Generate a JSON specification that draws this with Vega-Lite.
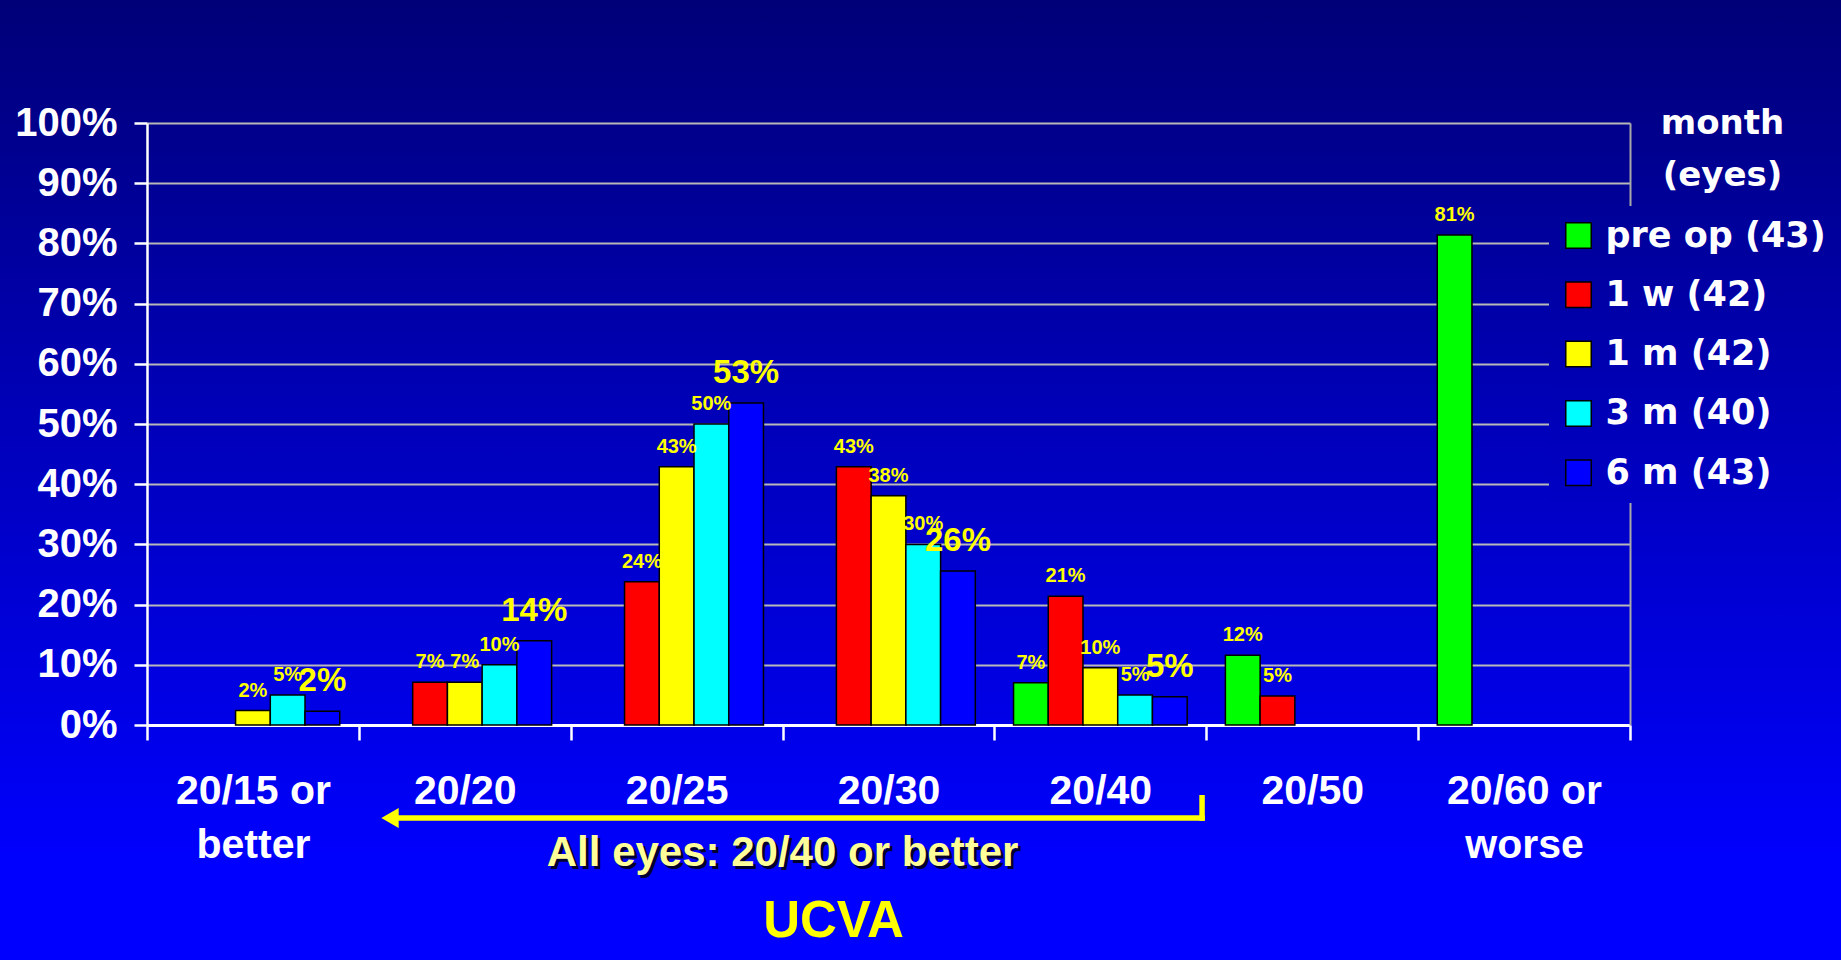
{
  "$schema": "https://vega.github.io/schema/vega-lite/v6.json",
  "width": 1483,
  "height": 602,
  "autosize": {"type": "none"},
  "padding": {"left": 147, "top": 123, "right": 211, "bottom": 235},
  "background": "#000078",
  "config": {
    "view": {
      "fill": null,
      "stroke": {"gradient": "linear", "x1": 0, "y1": -0.2043, "x2": 0, "y2": 1.2409,
        "stops": [{"offset": 0, "color": "#000078"}, {"offset": 1, "color": "#0000FF"}]},
      "strokeWidth": 3200
    }
  },
  "datasets": {
    "bars": [
      {"cat": "20/15 or better", "series": "1 m (42)", "value": 0.024},
      {"cat": "20/15 or better", "series": "3 m (40)", "value": 0.05},
      {"cat": "20/15 or better", "series": "6 m (43)", "value": 0.023},
      {"cat": "20/20", "series": "1 w (42)", "value": 0.071},
      {"cat": "20/20", "series": "1 m (42)", "value": 0.071},
      {"cat": "20/20", "series": "3 m (40)", "value": 0.10},
      {"cat": "20/20", "series": "6 m (43)", "value": 0.140},
      {"cat": "20/25", "series": "1 w (42)", "value": 0.238},
      {"cat": "20/25", "series": "1 m (42)", "value": 0.429},
      {"cat": "20/25", "series": "3 m (40)", "value": 0.50},
      {"cat": "20/25", "series": "6 m (43)", "value": 0.5349},
      {"cat": "20/30", "series": "1 w (42)", "value": 0.429},
      {"cat": "20/30", "series": "1 m (42)", "value": 0.381},
      {"cat": "20/30", "series": "3 m (40)", "value": 0.30},
      {"cat": "20/30", "series": "6 m (43)", "value": 0.256},
      {"cat": "20/40", "series": "pre op (43)", "value": 0.070},
      {"cat": "20/40", "series": "1 w (42)", "value": 0.214},
      {"cat": "20/40", "series": "1 m (42)", "value": 0.095},
      {"cat": "20/40", "series": "3 m (40)", "value": 0.05},
      {"cat": "20/40", "series": "6 m (43)", "value": 0.047},
      {"cat": "20/50", "series": "pre op (43)", "value": 0.116},
      {"cat": "20/50", "series": "1 w (42)", "value": 0.048},
      {"cat": "20/60 or worse", "series": "pre op (43)", "value": 0.814}
    ],
    "arrowShaft": [{"from": "20/20", "to": "20/40", "level": -0.1545}],
    "arrowDrop": [{"at": "20/40", "top": -0.1163, "bottom": -0.159}],
    "arrowHead": [{"at": "20/20", "level": -0.1545}],
    "note": [{"at": "20/30", "level": -0.234, "text": "All eyes: 20/40 or better"}]
  },
  "resolve": {"axis": {"y": "independent"}},
  "layer": [
    {
      "data": {"name": "bars"},
      "mark": {"type": "bar", "stroke": "#000000", "strokeWidth": 1.5},
      "encoding": {
        "x": {
          "field": "cat", "type": "nominal", "title": "UCVA",
          "scale": {"domain": ["20/15 or better", "20/20", "20/25", "20/30", "20/40", "20/50", "20/60 or worse"], "paddingInner": 0, "paddingOuter": 0},
          "axis": {
            "title": "UCVA", "titleColor": "#FFFF00", "titleFont": "Liberation Sans", "titleFontSize": 51, "titleFontWeight": "bold",
            "titleX": 686, "titleY": 211, "titleAlign": "center", "titleBaseline": "alphabetic",
            "labelExpr": "split(replace(datum.label, ' or ', ' or|'), '|')",
            "labelFont": "Liberation Sans", "labelFontSize": 41, "labelFontWeight": "bold", "labelColor": "#FFFFFF",
            "labelAngle": 0, "labelPadding": 31, "labelLineHeight": 54, "labelLimit": 400, "labelBaseline": "top",
            "domainColor": "#FFFFFF", "domainWidth": 3, "tickColor": "#FFFFFF", "tickWidth": 2.5, "tickSize": 15,
            "tickBand": "extent", "grid": false
          }
        },
        "xOffset": {
          "field": "series", "type": "nominal",
          "scale": {"domain": ["pre op (43)", "1 w (42)", "1 m (42)", "3 m (40)", "6 m (43)"], "paddingInner": 0, "paddingOuter": 0.55}
        },
        "y": {
          "field": "value", "type": "quantitative",
          "scale": {"domain": [0, 1], "nice": false},
          "axis": {
            "orient": "left", "title": null, "values": [0, 0.1, 0.2, 0.3, 0.4, 0.5, 0.6, 0.7, 0.8, 0.9, 1], "format": ".0%",
            "labelFont": "Liberation Sans", "labelFontSize": 40, "labelFontWeight": "bold", "labelColor": "#FFFFFF", "labelPadding": 17,
            "tickSize": 13, "tickColor": "#FFFFFF", "tickWidth": 2.5, "domainColor": "#FFFFFF", "domainWidth": 2.5,
            "grid": true, "gridColor": "#B8B8B8", "gridWidth": 2
          }
        },
        "color": {
          "field": "series", "type": "nominal",
          "scale": {"domain": ["pre op (43)", "1 w (42)", "1 m (42)", "3 m (40)", "6 m (43)"], "range": ["#00FF00", "#FF0000", "#FFFF00", "#00FFFF", "#0000FF"]},
          "legend": {
            "orient": "none", "legendX": 1402, "legendY": 83, "title": null, "padding": 12,
            "fillColor": {"value": {"gradient": "linear", "x1": 0, "y1": -0.707, "x2": 0, "y2": 2.273,
              "stops": [{"offset": 0, "color": "#000078"}, {"offset": 1, "color": "#0000FF"}]}},
            "symbolType": "square", "symbolSize": 650, "symbolStrokeColor": "#000000", "symbolStrokeWidth": 1.5,
            "labelFont": "DejaVu Sans", "labelFontSize": 35, "labelFontWeight": "bold", "labelColor": "#FFFFFF",
            "labelOffset": 9.5, "rowPadding": 23.3, "labelLimit": 400
          }
        }
      }
    },
    {
      "data": {"name": "bars"},
      "transform": [{"filter": "datum.series !== '6 m (43)'"}],
      "mark": {"type": "text", "font": "Liberation Sans", "fontSize": 20, "fontWeight": "bold", "color": "#FFFF00", "baseline": "alphabetic", "dy": -14},
      "encoding": {
        "x": {"field": "cat", "type": "nominal", "title": "UCVA", "scale": {"domain": ["20/15 or better", "20/20", "20/25", "20/30", "20/40", "20/50", "20/60 or worse"], "paddingInner": 0, "paddingOuter": 0}},
        "xOffset": {"field": "series", "type": "nominal", "scale": {"domain": ["pre op (43)", "1 w (42)", "1 m (42)", "3 m (40)", "6 m (43)"], "paddingInner": 0, "paddingOuter": 0.55}},
        "y": {
          "field": "value", "type": "quantitative", "scale": {"domain": [0, 1], "nice": false},
          "axis": {
            "orient": "right", "labels": false, "ticks": false, "grid": false, "domainColor": "#A8A8A8", "domainWidth": 2,
            "title": ["month", "(eyes)"], "titleColor": "#FFFFFF", "titleFont": "DejaVu Sans", "titleFontSize": 34, "titleFontWeight": "bold",
            "titleAngle": 0, "titleAlign": "center", "titleBaseline": "alphabetic", "titleX": 92, "titleY": 10, "titleLineHeight": 52
          }
        },
        "text": {"field": "value", "type": "quantitative", "format": ".0%"}
      }
    },
    {
      "data": {"name": "bars"},
      "transform": [{"filter": "datum.series === '6 m (43)'"}],
      "mark": {"type": "text", "font": "Liberation Sans", "fontSize": 33, "fontWeight": "bold", "color": "#FFFF00", "baseline": "alphabetic", "dy": -20},
      "encoding": {
        "x": {"field": "cat", "type": "nominal", "title": "UCVA", "scale": {"domain": ["20/15 or better", "20/20", "20/25", "20/30", "20/40", "20/50", "20/60 or worse"], "paddingInner": 0, "paddingOuter": 0}},
        "xOffset": {"field": "series", "type": "nominal", "scale": {"domain": ["pre op (43)", "1 w (42)", "1 m (42)", "3 m (40)", "6 m (43)"], "paddingInner": 0, "paddingOuter": 0.55}},
        "y": {"field": "value", "type": "quantitative", "scale": {"domain": [0, 1], "nice": false}, "axis": null},
        "text": {"field": "value", "type": "quantitative", "format": ".0%"}
      }
    },
    {
      "data": {"name": "arrowShaft"},
      "mark": {"type": "rule", "color": "#FFFF00", "strokeWidth": 5.5},
      "encoding": {
        "x": {"field": "from", "type": "nominal", "title": "UCVA", "bandPosition": 0.171, "scale": {"domain": ["20/15 or better", "20/20", "20/25", "20/30", "20/40", "20/50", "20/60 or worse"], "paddingInner": 0, "paddingOuter": 0}},
        "x2": {"field": "to", "bandPosition": 0.993},
        "y": {"field": "level", "type": "quantitative", "scale": {"domain": [0, 1], "nice": false}, "axis": null}
      }
    },
    {
      "data": {"name": "arrowDrop"},
      "mark": {"type": "rule", "color": "#FFFF00", "strokeWidth": 5.5},
      "encoding": {
        "x": {"field": "at", "type": "nominal", "title": "UCVA", "bandPosition": 0.98, "scale": {"domain": ["20/15 or better", "20/20", "20/25", "20/30", "20/40", "20/50", "20/60 or worse"], "paddingInner": 0, "paddingOuter": 0}},
        "y": {"field": "top", "type": "quantitative", "scale": {"domain": [0, 1], "nice": false}, "axis": null},
        "y2": {"field": "bottom"}
      }
    },
    {
      "data": {"name": "arrowHead"},
      "mark": {"type": "point", "shape": "triangle-left", "filled": true, "color": "#FFFF00", "opacity": 1, "size": 400},
      "encoding": {
        "x": {"field": "at", "type": "nominal", "title": "UCVA", "bandPosition": 0.147, "scale": {"domain": ["20/15 or better", "20/20", "20/25", "20/30", "20/40", "20/50", "20/60 or worse"], "paddingInner": 0, "paddingOuter": 0}},
        "y": {"field": "level", "type": "quantitative", "scale": {"domain": [0, 1], "nice": false}, "axis": null}
      }
    },
    {
      "data": {"name": "note"},
      "mark": {"type": "text", "font": "Liberation Sans", "fontSize": 42, "fontWeight": "bold", "color": "#000030", "baseline": "alphabetic", "align": "center", "dx": 3, "dy": 3},
      "encoding": {
        "x": {"field": "at", "type": "nominal", "title": "UCVA", "bandPosition": 0, "scale": {"domain": ["20/15 or better", "20/20", "20/25", "20/30", "20/40", "20/50", "20/60 or worse"], "paddingInner": 0, "paddingOuter": 0}},
        "y": {"field": "level", "type": "quantitative", "scale": {"domain": [0, 1], "nice": false}, "axis": null},
        "text": {"field": "text", "type": "nominal"}
      }
    },
    {
      "data": {"name": "note"},
      "mark": {"type": "text", "font": "Liberation Sans", "fontSize": 42, "fontWeight": "bold", "color": "#FFFF99", "baseline": "alphabetic", "align": "center"},
      "encoding": {
        "x": {"field": "at", "type": "nominal", "title": "UCVA", "bandPosition": 0, "scale": {"domain": ["20/15 or better", "20/20", "20/25", "20/30", "20/40", "20/50", "20/60 or worse"], "paddingInner": 0, "paddingOuter": 0}},
        "y": {"field": "level", "type": "quantitative", "scale": {"domain": [0, 1], "nice": false}, "axis": null},
        "text": {"field": "text", "type": "nominal"}
      }
    }
  ]
}
